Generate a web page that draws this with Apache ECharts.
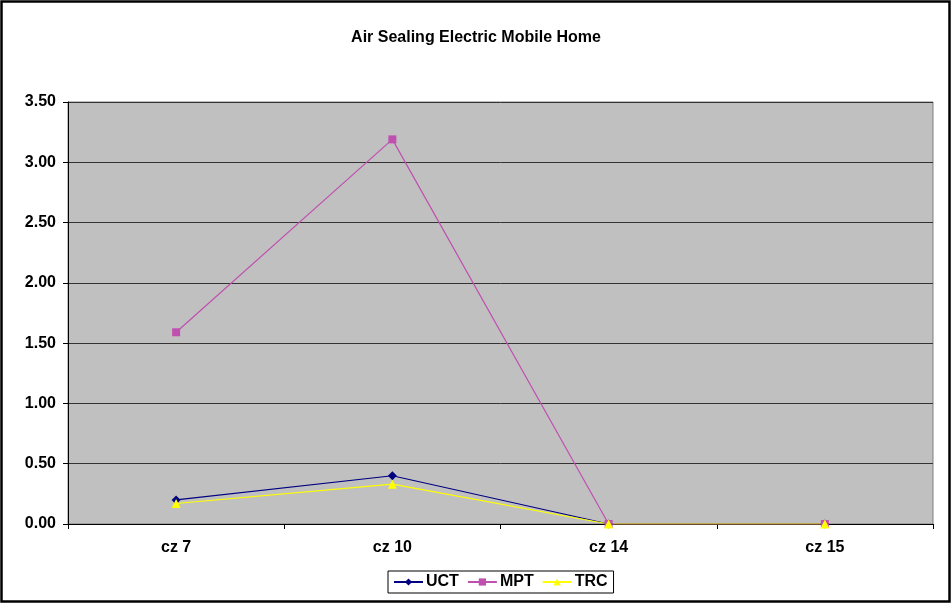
<!DOCTYPE html>
<html>
<head>
<meta charset="utf-8">
<script src="https://cdn.jsdelivr.net/npm/echarts@6/dist/echarts.min.js"></script>
<style>
  html, body { margin: 0; padding: 0; background: #fff; }
  #chart { width: 952px; height: 604px; }
</style>
</head>
<body>
<div id="chart"></div>
<script>
// Climate zones and cost-effectiveness ratios per test
const categories = ['cz 7', 'cz 10', 'cz 14', 'cz 15'];
const uct = [0.20, 0.40, 0.00, 0.00];
const mpt = [1.59, 3.19, 0.00, 0.00];
const trc = [0.17, 0.33, 0.00, 0.00];
const yTicks = { min: 0, max: 3.5, interval: 0.5 };

const font = 'Arial, "Liberation Sans", sans-serif';

const chart = echarts.init(document.getElementById('chart'), null, { renderer: 'canvas' });

function lineSeries(name, data, color, symbol, size) {
  return {
    name: name,
    type: 'line',
    data: data,
    symbol: symbol,
    symbolSize: size,
    showSymbol: true,
    lineStyle: { color: color, width: 1.2 },
    itemStyle: { color: color },
    emphasis: { disabled: true },
    animation: false
  };
}

chart.setOption({
  animation: false,
  title: {
    text: 'Air Sealing Electric Mobile Home',
    left: 'center',
    top: 25,
    textStyle: { fontFamily: font, fontSize: 16, fontWeight: 'bold', color: '#000' }
  },
  graphic: [{
    type: 'rect',
    shape: { x: 1.5, y: 1.5, width: 948, height: 600 },
    style: { fill: 'none', stroke: '#000', lineWidth: 2.5 },
    silent: true
  }],
  grid: {
    left: 68, right: 19, top: 102, bottom: 80,
    show: true,
    backgroundColor: '#C0C0C0',
    borderColor: '#808080',
    borderWidth: 1
  },
  legend: {
    bottom: 11,
    left: 388,
    data: ['UCT', 'MPT', 'TRC'],
    itemWidth: 29,
    itemHeight: 9,
    itemGap: 8,
    padding: [3, 6, 3, 5],
    borderColor: '#000',
    borderWidth: 1,
    textStyle: { fontFamily: font, fontSize: 16, fontWeight: 'bold', color: '#000', padding: [0, 0, 0, -2] }
  },
  xAxis: {
    type: 'category',
    data: categories,
    boundaryGap: true,
    axisLine: { lineStyle: { color: '#000', width: 1 } },
    axisTick: { show: true, alignWithLabel: false, length: 5, lineStyle: { color: '#000' } },
    axisLabel: { margin: 16, fontFamily: font, fontSize: 16, fontWeight: 'bold', color: '#000' },
    splitLine: { show: false }
  },
  yAxis: {
    type: 'value',
    min: yTicks.min,
    max: yTicks.max,
    interval: yTicks.interval,
    axisLine: { show: true, lineStyle: { color: '#000', width: 1 } },
    axisTick: { show: true, length: 5, lineStyle: { color: '#000' } },
    axisLabel: {
      margin: 12,
      fontFamily: font, fontSize: 16, fontWeight: 'bold', color: '#000',
      formatter: v => v.toFixed(2)
    },
    splitLine: { show: true, lineStyle: { color: '#333', width: 1 } }
  },
  series: [
    lineSeries('UCT', uct, '#000080', 'diamond', 9),
    lineSeries('MPT', mpt, '#C050B0', 'rect', 8),
    lineSeries('TRC', trc, '#FFFF00', 'triangle', 9)
  ]
});
</script>
</body>
</html>
